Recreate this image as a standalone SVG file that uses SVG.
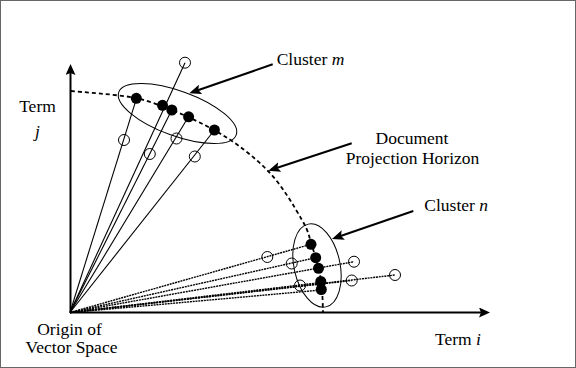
<svg xmlns="http://www.w3.org/2000/svg" width="576" height="368" viewBox="0 0 576 368">
<style>
.t{font-family:'Liberation Serif','DejaVu Serif',serif;font-size:17.5px;fill:#000}
.i{font-style:italic}
.ax{stroke:#000;stroke-width:2;fill:none}
.ar{stroke:#000;stroke-width:2;fill:none}
.vm{stroke:#000;stroke-width:1.1;fill:none}
.vn{stroke:#000;stroke-width:1.4;stroke-dasharray:2 0.8;fill:none}
.oc{fill:none;stroke:#000;stroke-width:1}
.dt{fill:#000}
.el{fill:none;stroke:#000;stroke-width:1}
.hz{fill:none;stroke:#000;stroke-width:1.8;stroke-dasharray:4 3}
</style>
<defs>
<marker id="ah" viewBox="0 0 12 10" refX="9" refY="5" markerWidth="12" markerHeight="10" markerUnits="userSpaceOnUse" orient="auto">
<path d="M0,0 L12,5 L0,10 L2.5,5 z" fill="#000"/>
</marker>
<marker id="ax" viewBox="0 0 11 10" refX="8" refY="5" markerWidth="11" markerHeight="10" markerUnits="userSpaceOnUse" orient="auto">
<path d="M0,0 L11,5 L0,10 L2,5 z" fill="#000"/>
</marker>
</defs>
<rect x="0.5" y="0.5" width="575" height="367" fill="#fff" stroke="#666" stroke-width="1"/>

<g id="axes">
<line class="ax" x1="70.5" y1="312.5" x2="70.5" y2="67" marker-end="url(#ax)"/>
<line class="ax" x1="70" y1="312.5" x2="487" y2="312.5" marker-end="url(#ax)"/>
</g>

<g id="connectors">
<g id="vectors-m">
<line class="vm" x1="70" y1="312.5" x2="136.5" y2="98.3"/>
<line class="vm" x1="70" y1="312.5" x2="185" y2="62.7"/>
<line class="vm" x1="70" y1="312.5" x2="171.8" y2="110"/>
<line class="vm" x1="70" y1="312.5" x2="188.5" y2="116.8"/>
<line class="vm" x1="70" y1="312.5" x2="214.5" y2="130"/>
</g>
<g id="vectors-n">
<line class="vn" x1="70" y1="312.5" x2="311" y2="244.3"/>
<line class="vn" x1="70" y1="312.5" x2="315.7" y2="257.7"/>
<line class="vn" x1="70" y1="312.5" x2="354" y2="261.7"/>
<line class="vn" x1="70" y1="312.5" x2="395" y2="275"/>
<line class="vn" x1="70" y1="312.5" x2="351.7" y2="280.5"/>
<line class="vn" x1="70" y1="312.5" x2="321" y2="282.5"/>
<line class="vn" x1="70" y1="312.5" x2="321.5" y2="290"/>
</g>
<path id="horizon" class="hz" d="M71,91 C82,92.2 113,94 137,98 C160.8,104.5 192.2,117.8 214,130 C235.8,142.2 253.3,156 268,171 C282.7,186 294.7,207.5 302,220 C309.3,232.5 309.2,237.7 312,246 C314.8,254.3 317.3,262.7 319,270 C320.7,277.3 321.3,283 322,290 C322.7,297 322.8,308.3 323,312"/>
<line class="ar" x1="272.7" y1="64.3" x2="192.1" y2="92.3" marker-end="url(#ah)"/>
<line class="ar" x1="351.7" y1="143.3" x2="271.2" y2="169.8" marker-end="url(#ah)"/>
<line class="ar" x1="413.3" y1="211" x2="334.8" y2="238" marker-end="url(#ah)"/>
</g>

<g id="cluster-m">
<ellipse class="el" cx="177.5" cy="113.5" rx="62.5" ry="22.4" transform="rotate(20 177.5 113.5)"/>
<circle class="dt" cx="136.3" cy="98.3" r="5.5"/>
<circle class="dt" cx="162.5" cy="105.3" r="5.5"/>
<circle class="dt" cx="171.8" cy="110" r="5.5"/>
<circle class="dt" cx="188.6" cy="116.8" r="5.5"/>
<circle class="dt" cx="214.4" cy="130" r="5.5"/>
<circle class="oc" cx="185" cy="62.7" r="5.5"/>
<circle class="oc" cx="124" cy="140" r="5.5"/>
<circle class="oc" cx="149.8" cy="154" r="5.5"/>
<circle class="oc" cx="176.5" cy="138.5" r="5.5"/>
<circle class="oc" cx="194.8" cy="156.5" r="5.5"/>
</g>

<g id="cluster-n">
<ellipse class="el" cx="317" cy="265.5" rx="23" ry="42.3" transform="rotate(-12 317 265.5)"/>
<circle class="dt" cx="311" cy="244.3" r="5.5"/>
<circle class="dt" cx="315.7" cy="257.7" r="5.5"/>
<circle class="dt" cx="318.5" cy="268.3" r="5.5"/>
<circle class="dt" cx="320.8" cy="281.5" r="5.5"/>
<circle class="dt" cx="321.3" cy="289.5" r="5.5"/>
<circle class="oc" cx="267.3" cy="257" r="5.5"/>
<circle class="oc" cx="291.7" cy="263.5" r="5.5"/>
<circle class="oc" cx="354" cy="261.7" r="5.5"/>
<circle class="oc" cx="395" cy="275" r="5.5"/>
<circle class="oc" cx="300" cy="285.5" r="5.5"/>
<circle class="oc" cx="351.7" cy="280.5" r="5.5"/>
</g>

<g font-family="Liberation Serif, DejaVu Serif, serif">
<g id="label-term-j">
<text class="t" x="37.5" y="112" text-anchor="middle">Term</text>
<text class="t i" x="37.5" y="137" text-anchor="middle">j</text>
</g>
<g id="label-cluster-m"><text class="t" x="276.7" y="65">Cluster <tspan class="i">m</tspan></text></g>
<g id="label-horizon">
<text class="t" x="412" y="144.3" text-anchor="middle">Document</text>
<text class="t" x="412.5" y="164.3" text-anchor="middle">Projection Horizon</text>
</g>
<g id="label-cluster-n"><text class="t" x="424.3" y="210.7">Cluster <tspan class="i">n</tspan></text></g>
<g id="label-origin">
<text class="t" x="69.5" y="335" text-anchor="middle">Origin of</text>
<text class="t" x="71.5" y="353" text-anchor="middle">Vector Space</text>
</g>
<g id="label-term-i"><text class="t" x="435" y="345">Term <tspan class="i">i</tspan></text></g>
</g>
</svg>
